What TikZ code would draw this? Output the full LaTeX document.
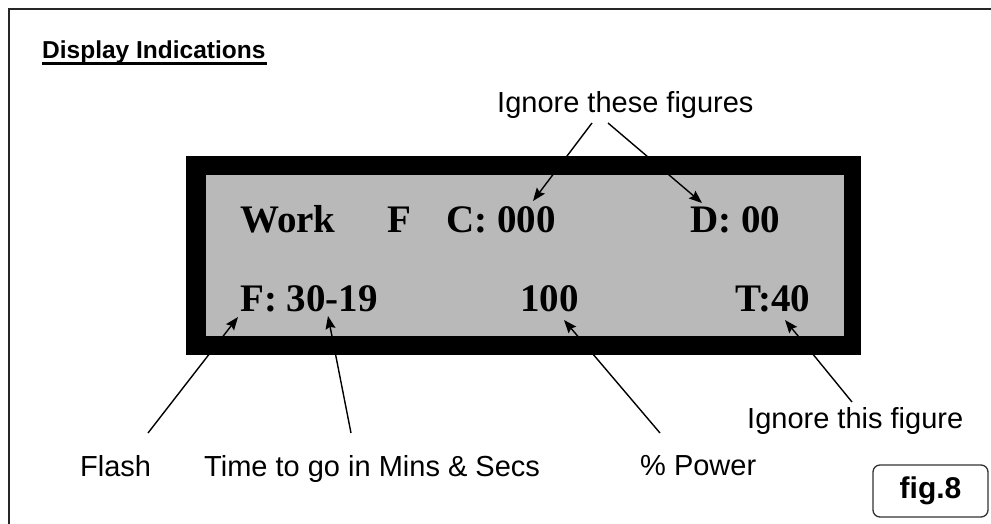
\documentclass[tikz,border=0pt]{standalone}
\usepackage{fontspec}
\setmainfont{Liberation Sans}
\newfontfamily\dispfont{Liberation Serif}
\usetikzlibrary{arrows.meta}
\tikzset{
  lbl/.style={anchor=base west, inner sep=0pt, font=\fontsize{29}{29}\selectfont},
  disp/.style={anchor=base west, inner sep=0pt, font=\dispfont\bfseries\fontsize{39}{39}\selectfont},
  ptr/.style={line width=1.4pt, -{Stealth[length=13pt,width=10pt,inset=2pt]}},
}
\begin{document}
\begin{tikzpicture}[x=1pt,y=-1pt]
\useasboundingbox (0,0) rectangle (991,524);
% outer frame (top and left edges)
\draw[line width=2.6pt, black!85] (9,524) -- (9,9) -- (991,9);
% title
\node[anchor=base west, inner sep=0pt, font=\bfseries\fontsize{24.5}{24.5}\selectfont] (title) at (42,59) {Display Indications};
\draw[line width=2.2pt] (42,63.5) -- (267,63.5);
% display
\fill[black] (186,156) rectangle (861,355);
\fill[gray!55] (206,175) rectangle (844,336);
\node[disp] (work) at (240,232) {Work};
\node[disp] (f1) at (387,232) {F};
\node[disp] (c) at (446,232) {C: 000};
\node[disp] (d) at (690,232) {D: 00};
\node[disp] (f2) at (240,311) {F: 30-19};
\node[disp] (pw) at (520,311) {100};
\node[disp] (t) at (735,311) {T:40};
% labels
\node[lbl] (ign) at (497,113) {Ignore these figures};
\node[lbl] (flash) at (80,476) {Flash};
\node[lbl] (time) at (204,476) {Time to go in Mins \& Secs};
\node[lbl] (power) at (640,475) {\% Power};
\node[lbl] (ign1) at (747,428) {Ignore this figure};
% arrow ends
\coordinate (a1s) at (592,123); \coordinate (a1e) at (533,201);
\coordinate (a2s) at (608,123); \coordinate (a2e) at (702,203);
\coordinate (b1s) at (148,433); \coordinate (b1e) at (238,317);
\coordinate (b2s) at (351,433); \coordinate (b2e) at (328,316);
\coordinate (b3s) at (660,433); \coordinate (b3e) at (564,320);
\coordinate (b4s) at (852,402); \coordinate (b4e) at (785,320);
\draw[ptr] (a1s) -- (a1e);
\draw[ptr] (a2s) -- (a2e);
\draw[ptr] (b1s) -- (b1e);
\draw[ptr] (b2s) -- (b2e);
\draw[ptr] (b3s) -- (b3e);
\draw[ptr] (b4s) -- (b4e);
% fig.8 box
\node[draw=black!80, line width=1.3pt, rounded corners=7pt, minimum width=115pt, minimum height=52pt, inner sep=0pt, font=\bfseries\fontsize{30}{30}\selectfont] (fig) at (930.5,491) {fig.8};
\end{tikzpicture}
\end{document}
